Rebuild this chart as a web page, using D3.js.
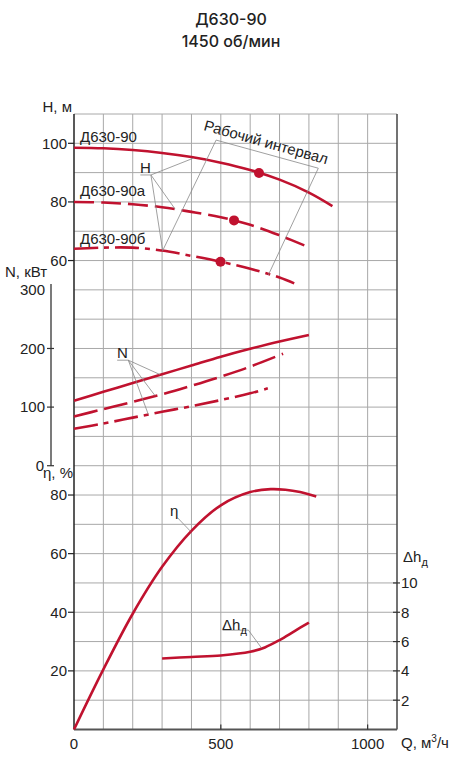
<!DOCTYPE html>
<html>
<head>
<meta charset="utf-8">
<script src="https://cdn.jsdelivr.net/npm/d3@7"></script>
<style>
  html, body { margin: 0; padding: 0; background: #fff; }
  svg text { font-family: "Liberation Sans", Arial, sans-serif; fill: #222; }
</style>
</head>
<body>
<svg id="chart" width="462" height="757"></svg>
<script>
// head curves H(Q), m
const h90 = [[0,98.5],[100,98.3],[200,97.7],[300,96.7],[400,95.3],[500,93.4],[600,90.9],[700,87.6],[800,83.2],[880,78.6]];
const h90a = [[0,80],[100,79.8],[200,79.2],[300,78.2],[400,76.6],[500,74.8],[600,72.2],[700,68.6],[800,64.5]];
const h90b = [[0,64],[100,64.4],[200,64.4],[300,63.4],[400,61.6],[500,59.6],[600,57.2],[700,54.2],[750,52.2]];
// marked points on head curves
const hPoints = [[630,89.9],[545,73.7],[499,59.6]];

// power curves N(Q), kW
const n90 = [[0,111],[100,126],[200,141],[300,156],[400,171],[500,186],[600,199.5],[700,212],[800,223]];
const n90a = [[0,84],[100,96.5],[200,109],[300,122],[400,136.5],[500,152],[600,169],[712,191]];
const n90b = [[0,63],[100,72],[200,82],[300,92],[400,101.5],[500,112],[600,123.5],[660,132]];

// efficiency, % and NPSH, m
const eta = [[0,0],[100,20.5],[200,39.5],[300,55.5],[400,67.8],[500,76.5],[600,81],[670,82],[720,81.8],[770,81],[825,79.5]];
const dh = [[300,4.85],[400,4.95],[500,5.05],[600,5.3],[650,5.6],[700,6.1],[750,6.7],[800,7.3]];

const qTicks = [0, 500, 1000];
const hTicks = [60, 80, 100];
const nTicks = [0, 100, 200, 300];
const etaTicks = [20, 40, 60, 80];
const dhTicks = [2, 4, 6, 8, 10];

const red = "#c0122f";
const svg = d3.select("#chart");

const x = d3.scaleLinear().domain([0, 1100]).range([74, 397]);
const yEta = d3.scaleLinear().domain([0, 210]).range([729.5, 114]);
const yDh = d3.scaleLinear().domain([0, 42]).range([729.5, 114]);
const yH = d3.scaleLinear().domain([-100, 110]).range([729.5, 114]);
const yN = d3.scaleLinear().domain([-450, 600]).range([729.5, 114]);

// title
svg.append("text").attr("x", 231).attr("y", 25).attr("text-anchor", "middle")
    .style("font-family", "Inter, sans-serif").style("font-size", "16px").style("font-weight", 500)
    .text("Д630-90");
svg.append("text").attr("x", 231).attr("y", 46.5).attr("text-anchor", "middle")
    .style("font-family", "Inter, sans-serif").style("font-size", "16px").style("font-weight", 500)
    .text("1450 об/мин");

// grid
const grid = svg.append("g").attr("stroke", "#a8a8a8").attr("stroke-width", 1);
d3.range(100, 1001, 100).forEach(q => {
    grid.append("line").attr("x1", x(q)).attr("x2", x(q)).attr("y1", yEta(210)).attr("y2", yEta(0));
});
d3.range(10, 211, 10).forEach(v => {
    grid.append("line").attr("x1", x(0)).attr("x2", x(1100)).attr("y1", yEta(v)).attr("y2", yEta(v));
});

// frame
svg.append("line").attr("x1", x(0)).attr("x2", x(0)).attr("y1", yEta(210)).attr("y2", yEta(0))
    .attr("stroke", "#222").attr("stroke-width", 1.5);
svg.append("line").attr("x1", x(1100)).attr("x2", x(1100)).attr("y1", yEta(210)).attr("y2", yEta(0))
    .attr("stroke", "#444").attr("stroke-width", 1.5);
svg.append("line").attr("x1", x(0)).attr("x2", x(1100)).attr("y1", yEta(0)).attr("y2", yEta(0))
    .attr("stroke", "#555").attr("stroke-width", 2);

const fs = "15px";

// Q axis
qTicks.forEach(q => {
    if (q > 0) {
        svg.append("line").attr("x1", x(q)).attr("x2", x(q)).attr("y1", yEta(0) - 5).attr("y2", yEta(0))
            .attr("stroke", "#333").attr("stroke-width", 1.2);
    }
    svg.append("text").attr("x", x(q)).attr("y", 748.5).attr("text-anchor", "middle")
        .style("font-size", fs).text(q);
});
const qLab = svg.append("text").attr("x", 401).attr("y", 748).style("font-size", fs);
qLab.append("tspan").text("Q, м");
qLab.append("tspan").attr("dy", -6).style("font-size", "10px").text("3");
qLab.append("tspan").attr("dy", 6).text("/ч");

// left ticks: H and eta
function leftTick(yy, label) {
    svg.append("line").attr("x1", 68).attr("x2", 74).attr("y1", yy).attr("y2", yy)
        .attr("stroke", "#222").attr("stroke-width", 1.2);
    svg.append("text").attr("x", 67).attr("y", yy).attr("dy", "0.36em").attr("text-anchor", "end")
        .style("font-size", fs).text(label);
}
hTicks.forEach(h => leftTick(yH(h), h));
etaTicks.forEach(e => leftTick(yEta(e), e));
svg.append("text").attr("x", 72).attr("y", 112).attr("text-anchor", "end").style("font-size", fs).text("H, м");
svg.append("text").attr("x", 43).attr("y", 478).style("font-size", fs).text("η, %");

// N axis
svg.append("line").attr("x1", 51).attr("x2", 51).attr("y1", yN(310)).attr("y2", yN(0))
    .attr("stroke", "#333").attr("stroke-width", 1.3);
nTicks.forEach(n => {
    if (n < 300) {
        svg.append("line").attr("x1", 47).attr("x2", 54).attr("y1", yN(n)).attr("y2", yN(n))
            .attr("stroke", "#333").attr("stroke-width", 1.2);
    }
    svg.append("text").attr("x", n === 0 ? 44 : 45).attr("y", yN(n)).attr("dy", "0.36em").attr("text-anchor", "end")
        .style("font-size", fs).text(n);
});
svg.append("text").attr("x", 5).attr("y", 277).style("font-size", fs).text("N, кВт");

// right axis: dh
dhTicks.forEach(v => {
    svg.append("line").attr("x1", 393).attr("x2", 400).attr("y1", yDh(v)).attr("y2", yDh(v))
        .attr("stroke", "#333").attr("stroke-width", 1.2);
    svg.append("text").attr("x", 401).attr("y", yDh(v)).attr("dy", "0.36em")
        .style("font-size", fs).text(v);
});
const dhLab = svg.append("text").attr("x", 403).attr("y", 562).style("font-size", fs);
dhLab.append("tspan").text("Δh");
dhLab.append("tspan").attr("dy", 4).style("font-size", "11px").text("д");

// curves
function curve(data, yScale, dash) {
    const line = d3.line().x(d => x(d[0])).y(d => yScale(d[1])).curve(d3.curveCatmullRom.alpha(0.5));
    svg.append("path").attr("d", line(data)).attr("fill", "none")
        .attr("stroke", red).attr("stroke-width", 2.6)
        .attr("stroke-dasharray", dash || null);
}
const dashA = "20,7";
const dashB = "24,6,5,6";
curve(h90, yH);
curve(h90a, yH, dashA);
curve(h90b, yH, dashB);
curve(n90, yN);
curve(n90a, yN, "24,7");
curve(n90b, yN, dashB);
curve(eta, yEta);
curve(dh, yDh);

svg.selectAll("circle.pt").data(hPoints).join("circle").attr("class", "pt")
    .attr("cx", d => x(d[0])).attr("cy", d => yH(d[1])).attr("r", 5).attr("fill", red);

// curve names
svg.append("text").attr("x", 80).attr("y", 142).style("font-size", fs).text("Д630-90");
svg.append("text").attr("x", 80).attr("y", 196).style("font-size", fs).text("Д630-90а");
svg.append("text").attr("x", 80).attr("y", 244).style("font-size", fs).text("Д630-90б");

// leader lines
const lead = svg.append("g").attr("stroke", "#888").attr("stroke-width", 0.8).attr("fill", "none");
function leader(from, targets, yScale) {
    targets.forEach(t => {
        lead.append("line").attr("x1", x(from[0])).attr("y1", yScale(from[1]))
            .attr("x2", x(t[0])).attr("y2", yScale(t[1]));
    });
}

// H label
svg.append("text").attr("x", 140).attr("y", 173).style("font-size", fs).text("H");
leader([262, 89.2], [[406, 94.9], [344, 77.6], [302, 63.4]], yH);
leader([226, 89.2], [[262, 89.2]], yH);

// working interval bracket
leader([484, 101.1], [[832, 91.5], [302, 63.4]], yH);
leader([832, 91.5], [[662, 55.1]], yH);
svg.append("text").attr("transform", "translate(203,130) rotate(15.6)")
    .style("font-size", fs).text("Рабочий интервал");

// N label
svg.append("text").attr("x", 117).attr("y", 358).style("font-size", fs).text("N");
leader([185, 180], [[293, 155.5], [276, 119.5], [253, 87.5]], yN);
leader([147, 180], [[185, 180]], yN);

// eta label
svg.append("text").attr("x", 170).attr("y", 516).style("font-size", fs).text("η");
leader([352, 72.3], [[397, 67.6]], yEta);

// dh label
const dhNote = svg.append("text").attr("x", 222).attr("y", 630).style("font-size", fs);
dhNote.append("tspan").text("Δh");
dhNote.append("tspan").attr("dy", 4).style("font-size", "11px").text("д");
leader([594, 6.78], [[639, 5.55]], yDh);
leader([506, 6.78], [[594, 6.78]], yDh);
</script>
</body>
</html>
